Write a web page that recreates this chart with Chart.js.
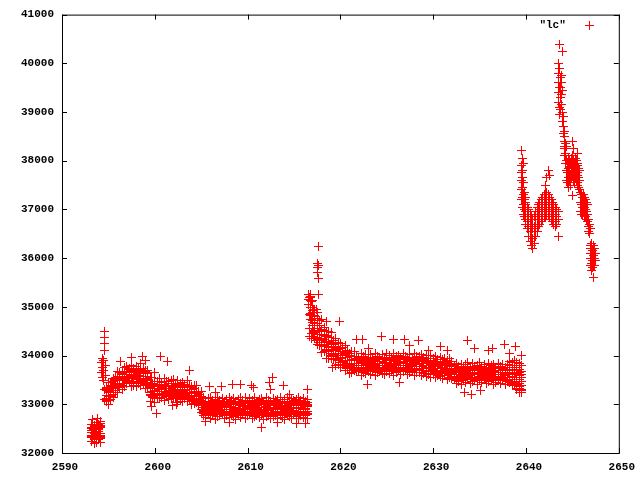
<!DOCTYPE html>
<html><head><meta charset="utf-8">
<script src="https://cdn.jsdelivr.net/npm/chart.js@4/dist/chart.umd.min.js"></script>
<style>html,body{margin:0;padding:0;background:#fff}#wrap{width:640px;height:480px}</style>
</head><body><div id="wrap"><canvas id="c" width="640" height="480"></canvas></div>
<script>
const seriesName = '"lc"';
const xTicks = [2590, 2600, 2610, 2620, 2630, 2640, 2650];
const yTicks = [32000, 33000, 34000, 35000, 36000, 37000, 38000, 39000, 40000, 41000];

// regular band of the light curve: time stamps and nine readings per stamp
const bandTime = [
  2593.2, 2593.45, 2593.7, 2593.95, 2594.2,
  2594.75, 2595, 2595.25, 2595.5, 2595.75, 2596, 2596.25, 2596.5, 2596.75, 2597,
  2597.25, 2597.5, 2597.75, 2598, 2598.25, 2598.5, 2598.75, 2599, 2599.25, 2599.5,
  2599.75, 2600, 2600.25, 2600.5, 2600.75, 2601, 2601.25, 2601.5, 2601.75, 2602,
  2602.25, 2602.5, 2602.75, 2603, 2603.25, 2603.5, 2603.75, 2604, 2604.25, 2604.5,
  2604.75, 2605,
  2605.25, 2605.5, 2605.75, 2606, 2606.25, 2606.5, 2606.75, 2607, 2607.25, 2607.5,
  2607.75, 2608, 2608.25, 2608.5, 2608.75, 2609, 2609.25, 2609.5, 2609.75, 2610,
  2610.25, 2610.5, 2610.75, 2611, 2611.25, 2611.5, 2611.75, 2612, 2612.25, 2612.5,
  2612.75, 2613, 2613.25, 2613.5, 2613.75, 2614, 2614.25, 2614.5, 2614.75, 2615,
  2615.25, 2615.5, 2615.75, 2616, 2616.25, 2616.5,
  2616.75, 2617, 2617.25, 2617.5, 2617.75, 2618, 2618.25, 2618.5, 2618.75, 2619,
  2619.25, 2619.5, 2619.75, 2620, 2620.25, 2620.5, 2620.75, 2621, 2621.25, 2621.5,
  2621.75, 2622, 2622.25, 2622.5, 2622.75, 2623, 2623.25, 2623.5, 2623.75, 2624,
  2624.25, 2624.5, 2624.75, 2625, 2625.25, 2625.5, 2625.75, 2626, 2626.25, 2626.5,
  2626.75, 2627, 2627.25, 2627.5, 2627.75, 2628, 2628.25, 2628.5, 2628.75, 2629,
  2629.25, 2629.5, 2629.75, 2630, 2630.25, 2630.5, 2630.75, 2631, 2631.25, 2631.5,
  2631.75, 2632, 2632.25, 2632.5, 2632.75, 2633, 2633.25, 2633.5, 2633.75, 2634,
  2634.25, 2634.5, 2634.75, 2635, 2635.25, 2635.5, 2635.75, 2636, 2636.25, 2636.5,
  2636.75, 2637, 2637.25, 2637.5, 2637.75, 2638, 2638.25, 2638.5, 2638.75, 2639,
  2639.25, 2639.5
];
const bandLo = [
  32240, 32290, 32220, 32270, 32300,
  33065, 33005, 33105, 33135, 33280, 33240, 33350, 33300, 33375, 33420,
  33445, 33355, 33395, 33375, 33470, 33390, 33430, 33320, 33325, 33180,
  33145, 33035, 33125, 33125, 33180, 33080, 33170, 33100, 33125, 33150,
  33145, 33045, 33095, 33055, 33150, 33050, 33090, 32990, 33025, 33030,
  32985, 32825,
  32780, 32730, 32805, 32715, 32775, 32695, 32750, 32785, 32790, 32700,
  32760, 32720, 32800, 32745, 32690, 32770, 32735, 32795, 32710, 32760,
  32785, 32700, 32740, 32805, 32725, 32765, 32690, 32755, 32790, 32715,
  32745, 32800, 32705, 32770, 32730, 32695, 32780, 32750, 32710, 32790,
  32740, 32700, 32775, 32720, 32760, 32705,
  34740, 34450, 34360, 34230, 34205, 34065, 34075, 33935, 33950, 33935, 33920, 33790, 33810, 33760, 33815, 33695, 33725, 33635, 33660, 33685, 33680,
  33690, 33600, 33660, 33630, 33705, 33615, 33675, 33595, 33650, 33685, 33640, 33605, 33700, 33625, 33670, 33595, 33655, 33690, 33610, 33665, 33700, 33620, 33645, 33680, 33600, 33660,
  33660, 33590, 33640, 33575, 33615, 33560, 33620, 33540, 33595, 33565, 33530, 33590, 33510, 33560, 33535,
  33500, 33430, 33475, 33410, 33490, 33445, 33515, 33420, 33465, 33500, 33415, 33480, 33440, 33510, 33425, 33470, 33495, 33410, 33455, 33505, 33430, 33485, 33415, 33470,
  33440, 33380, 33410, 33330, 33290, 33240
];
const bandQ1 = [
  32310, 32285, 32330, 32295, 32320,
  33102, 33082, 33187, 33202, 33247, 33347, 33412, 33392, 33437, 33417,
  33482, 33432, 33477, 33442, 33437, 33497, 33492, 33412, 33387, 33177,
  33182, 33112, 33207, 33192, 33147, 33187, 33232, 33192, 33187, 33147,
  33182, 33122, 33177, 33122, 33117, 33157, 33152, 33082, 33087, 33027,
  33022, 32902,
  32820, 32775, 32830, 32790, 32770, 32815, 32835, 32785, 32805, 32780,
  32825, 32795, 32770, 32830, 32800, 32780, 32820, 32790, 32835, 32775,
  32810, 32785, 32825, 32770, 32805, 32830, 32790, 32815, 32775, 32800,
  32835, 32780, 32820, 32795, 32770, 32825, 32805, 32785, 32830, 32790,
  32815, 32775, 32800, 32835, 32785, 32810,
  34830, 34610, 34510, 34380, 34310, 34210, 34200, 34110, 34090, 33990, 34010, 33930, 33925, 33860, 33875, 33805, 33810, 33750, 33755, 33700, 33715,
  33720, 33680, 33735, 33690, 33670, 33715, 33740, 33685, 33705, 33675, 33725, 33695, 33670, 33730, 33700, 33680, 33720, 33690, 33735, 33675, 33710, 33685, 33725, 33670, 33705, 33730,
  33700, 33655, 33690, 33640, 33665, 33680, 33625, 33650, 33615, 33640, 33600, 33630, 33585, 33610, 33575,
  33540, 33495, 33550, 33505, 33485, 33530, 33555, 33500, 33520, 33490, 33545, 33510, 33485, 33550, 33515, 33495, 33535, 33505, 33550, 33490, 33525, 33500, 33540, 33485,
  33500, 33440, 33470, 33400, 33360, 33310
];
const bandQ2 = [
  32340, 32310, 32355, 32325, 32345,
  33085, 33170, 33175, 33275, 33275, 33370, 33435, 33425, 33500, 33440,
  33465, 33520, 33465, 33515, 33465, 33520, 33515, 33445, 33450, 33200,
  33165, 33200, 33195, 33265, 33175, 33210, 33255, 33225, 33250, 33170,
  33165, 33210, 33165, 33195, 33145, 33180, 33175, 33115, 33150, 33050,
  33005, 32990,
  32845, 32800, 32860, 32815, 32790, 32850, 32825, 32870, 32805, 32840,
  32795, 32855, 32820, 32865, 32810, 32835, 32790, 32860, 32830, 32800,
  32850, 32815, 32870, 32795, 32840, 32820, 32855, 32805, 32865, 32825,
  32790, 32845, 32810, 32860, 32835, 32800, 32855, 32820, 32790, 32865,
  32830, 32805, 32850, 32815, 32840, 32795,
  34860, 34675, 34485, 34440, 34270, 34235, 34230, 34135, 34115, 33995, 34030, 34005, 33925, 33950, 33850, 33825, 33840, 33785, 33795, 33705, 33740,
  33745, 33700, 33760, 33715, 33690, 33750, 33725, 33770, 33705, 33740, 33695, 33755, 33720, 33765, 33710, 33735, 33690, 33760, 33730, 33700, 33750, 33715, 33770, 33695, 33740, 33720,
  33720, 33690, 33730, 33675, 33700, 33665, 33705, 33650, 33690, 33640, 33680, 33625, 33665, 33615, 33650,
  33560, 33515, 33575, 33530, 33505, 33565, 33540, 33585, 33520, 33555, 33510, 33570, 33535, 33580, 33525, 33550, 33505, 33575, 33545, 33515, 33565, 33530, 33585, 33510,
  33470, 33420, 33450, 33380, 33330, 33280
];
const bandMidLo = [
  32350, 32320, 32390, 32340, 32360,
  33110, 33190, 33155, 33315, 33330, 33420, 33395, 33485, 33540, 33475,
  33490, 33540, 33445, 33555, 33520, 33570, 33475, 33505, 33490, 33235,
  33190, 33220, 33175, 33305, 33230, 33260, 33215, 33285, 33290, 33205,
  33190, 33230, 33145, 33235, 33200, 33230, 33135, 33175, 33190, 33085,
  33030, 33010,
  32880, 32840, 32905, 32815, 32870, 32830, 32910, 32850, 32820, 32895,
  32860, 32810, 32885, 32845, 32915, 32825, 32870, 32900, 32835, 32860,
  32815, 32890, 32850, 32905, 32830, 32875, 32810, 32865, 32900, 32840,
  32885, 32820, 32860, 32910, 32835, 32870, 32815, 32895, 32845, 32880,
  32825, 32905, 32855, 32815, 32890, 32850,
  34850, 34710, 34475, 34485, 34340, 34310, 34185, 34185, 34160, 34035, 33990, 34010, 33895, 33965, 33890, 33900, 33785, 33825, 33840, 33745, 33730,
  33735, 33790, 33710, 33815, 33750, 33780, 33720, 33800, 33760, 33715, 33805, 33740, 33785, 33710, 33770, 33820, 33730, 33795, 33755, 33715, 33790, 33745, 33810, 33725, 33775, 33740,
  33730, 33770, 33700, 33745, 33690, 33735, 33710, 33670, 33725, 33660, 33700, 33645, 33690, 33655, 33630,
  33560, 33610, 33545, 33595, 33530, 33620, 33570, 33540, 33605, 33555, 33625, 33535, 33590, 33560, 33615, 33530, 33585, 33605, 33545, 33575, 33620, 33540, 33595, 33555,
  33560, 33500, 33540, 33470, 33430, 33380
];
const bandMid = [
  32430, 32400, 32415, 32440, 32405,
  33185, 33260, 33245, 33340, 33435, 33415, 33500, 33555, 33530, 33575,
  33565, 33610, 33535, 33580, 33625, 33565, 33580, 33575, 33480, 33335,
  33265, 33290, 33265, 33330, 33335, 33255, 33320, 33355, 33280, 33305,
  33265, 33300, 33235, 33260, 33305, 33225, 33240, 33245, 33180, 33185,
  33105, 33080,
  32940, 32905, 32895, 32935, 32915, 32950, 32890, 32925, 32945, 32900,
  32930, 32890, 32955, 32910, 32935, 32895, 32920, 32950, 32905, 32930,
  32890, 32945, 32915, 32900, 32940, 32925, 32895, 32950, 32910, 32935,
  32900, 32920, 32945, 32890, 32930, 32915, 32955, 32895, 32925, 32905,
  32940, 32910, 32935, 32895, 32920, 32950,
  34985, 34830, 34625, 34560, 34485, 34345, 34320, 34285, 34180, 34165, 34095, 34100, 34005, 34010, 34005, 33905, 33900, 33905, 33830, 33845, 33805,
  33840, 33805, 33795, 33835, 33815, 33850, 33790, 33825, 33845, 33800, 33830, 33790, 33855, 33810, 33835, 33795, 33820, 33850, 33805, 33830, 33790, 33845, 33815, 33800, 33840, 33825,
  33820, 33780, 33805, 33760, 33795, 33750, 33780, 33740, 33770, 33725, 33755, 33710, 33740, 33695, 33725,
  33655, 33620, 33610, 33650, 33630, 33665, 33605, 33640, 33660, 33615, 33645, 33605, 33670, 33625, 33650, 33610, 33635, 33665, 33620, 33645, 33605, 33660, 33630, 33615,
  33640, 33580, 33620, 33560, 33510, 33470
];
const bandMidHi = [
  32460, 32500, 32440, 32480, 32520,
  33275, 33250, 33380, 33375, 33410, 33550, 33565, 33620, 33575, 33615,
  33655, 33600, 33670, 33615, 33600, 33700, 33645, 33640, 33525, 33375,
  33355, 33280, 33400, 33365, 33310, 33390, 33385, 33420, 33325, 33345,
  33355, 33290, 33370, 33295, 33280, 33360, 33305, 33310, 33225, 33225,
  33195, 33070,
  33020, 32950, 33030, 32935, 32990, 33025, 32940, 32985, 33015, 32925,
  32970, 33030, 32955, 33005, 32930, 32995, 33025, 32945, 32980, 33020,
  32935, 33000, 32960, 33030, 32925, 32990, 33015, 32950, 32975, 33025,
  32940, 32995, 33020, 32930, 32985, 33010, 32945, 33030, 32965, 32935,
  33005, 32980, 32925, 33020, 32955, 32990,
  35135, 34880, 34820, 34655, 34510, 34530, 34425, 34390, 34265, 34245, 34225, 34120, 34170, 34075, 34010, 34070, 33995, 34000, 33905, 33905, 33915,
  33895, 33850, 33930, 33865, 33830, 33915, 33880, 33905, 33840, 33875, 33925, 33855, 33890, 33835, 33920, 33870, 33900, 33845, 33930, 33860, 33885, 33915, 33840, 33905, 33865, 33890,
  33900, 33845, 33880, 33830, 33875, 33820, 33860, 33805, 33850, 33800, 33840, 33790, 33825, 33770, 33810,
  33720, 33665, 33705, 33650, 33735, 33680, 33715, 33645, 33700, 33740, 33660, 33725, 33690, 33640, 33710, 33745, 33670, 33700, 33655, 33730, 33685, 33715, 33650, 33695,
  33720, 33660, 33700, 33640, 33600, 33560
];
const bandQ4 = [
  32500, 32530, 32485, 32510, 32540,
  33325, 33300, 33375, 33380, 33515, 33530, 33555, 33660, 33615, 33655,
  33705, 33650, 33665, 33620, 33705, 33680, 33635, 33680, 33565, 33415,
  33405, 33330, 33395, 33370, 33415, 33370, 33375, 33460, 33365, 33385,
  33405, 33340, 33365, 33300, 33385, 33340, 33295, 33350, 33265, 33265,
  33245, 33120,
  33030, 32985, 33045, 33000, 32975, 33040, 33015, 33050, 32990, 33025,
  32980, 33045, 33005, 33050, 32995, 33020, 32975, 33040, 33010, 32985,
  33035, 33000, 33050, 32980, 33025, 33005, 33045, 32990, 33050, 33015,
  32975, 33030, 32995, 33045, 33020, 32985, 33040, 33005, 32975, 33050,
  33015, 32990, 33035, 33000, 33025, 32980,
  35185, 34930, 34815, 34660, 34625, 34490, 34405, 34420, 34295, 34275, 34235, 34140, 34135, 34050, 34085, 34020, 33955, 34010, 33915, 33925, 33945,
  33925, 33880, 33940, 33895, 33870, 33935, 33905, 33950, 33885, 33920, 33875, 33945, 33900, 33950, 33890, 33915, 33870, 33940, 33910, 33880, 33930, 33895, 33950, 33875, 33920, 33900,
  33900, 33870, 33910, 33860, 33885, 33845, 33880, 33835, 33870, 33820, 33860, 33810, 33845, 33800, 33830,
  33740, 33695, 33755, 33710, 33685, 33745, 33720, 33765, 33700, 33735, 33690, 33750, 33715, 33760, 33705, 33730, 33685, 33755, 33725, 33695, 33745, 33710, 33765, 33690,
  33760, 33720, 33750, 33700, 33660, 33620
];
const bandQ3 = [
  32530, 32555, 32520, 32545, 32560,
  33348, 33338, 33358, 33473, 33498, 33573, 33653, 33623, 33683, 33643,
  33728, 33688, 33648, 33713, 33688, 33723, 33733, 33643, 33633, 33403,
  33428, 33368, 33378, 33463, 33398, 33413, 33473, 33423, 33433, 33373,
  33428, 33378, 33348, 33393, 33368, 33383, 33393, 33313, 33333, 33253,
  33268, 33158,
  33060, 33025, 33050, 33005, 33070, 33040, 33015, 33055, 33030, 33065,
  33010, 33045, 33070, 33020, 33055, 33035, 33005, 33060, 33040, 33025,
  33065, 33015, 33050, 33035, 33070, 33010, 33045, 33060, 33025, 33055,
  33005, 33040, 33065, 33030, 33050, 33015, 33060, 33045, 33020, 33070,
  33035, 33055, 33010, 33045, 33065, 33030,
  35220, 34980, 34810, 34765, 34620, 34545, 34515, 34395, 34375, 34275, 34265, 34185, 34125, 34150, 34075, 34070, 34060, 33980, 33990, 33920, 33975,
  33960, 33925, 33950, 33905, 33970, 33940, 33915, 33955, 33930, 33965, 33910, 33945, 33970, 33920, 33955, 33935, 33905, 33960, 33940, 33925, 33965, 33915, 33950, 33935, 33970, 33910,
  33930, 33900, 33915, 33880, 33905, 33870, 33895, 33855, 33880, 33845, 33870, 33830, 33855, 33815, 33840,
  33770, 33735, 33760, 33715, 33780, 33750, 33725, 33765, 33740, 33775, 33720, 33755, 33780, 33730, 33765, 33745, 33715, 33770, 33750, 33735, 33775, 33725, 33760, 33745,
  33790, 33760, 33800, 33750, 33720, 33680
];
const bandHi = [
  32590, 32560, 32630, 32580, 32610,
  33330, 33440, 33440, 33530, 33545, 33680, 33655, 33665, 33745, 33780,
  33710, 33790, 33730, 33770, 33735, 33830, 33735, 33685, 33695, 33540,
  33410, 33470, 33460, 33520, 33445, 33520, 33475, 33465, 33495, 33510,
  33410, 33480, 33430, 33450, 33415, 33490, 33395, 33355, 33395, 33390,
  33250, 33260,
  33130, 33060, 33110, 33145, 33050, 33095, 33135, 33070, 33120, 33040,
  33100, 33140, 33065, 33115, 33045, 33090, 33130, 33075, 33145, 33055,
  33110, 33080, 33135, 33050, 33100, 33125, 33060, 33140, 33085, 33045,
  33120, 33070, 33105, 33145, 33055, 33095, 33130, 33065, 33115, 33040,
  33100, 33135, 33075, 33120, 33050, 33090,
  35255, 35135, 34945, 34875, 34720, 34735, 34580, 34500, 34500, 34465, 34315, 34345, 34265, 34255, 34170, 34215, 34100, 34050, 34080, 34075, 33975,
  33960, 34040, 33990, 34015, 33950, 34030, 33970, 34045, 33985, 33955, 34020, 33965, 34040, 34000, 33950, 34035, 33975, 34010, 33960, 34045, 33990, 33955, 34025, 33970, 34040, 33985,
  33985, 34020, 33960, 34000, 33950, 33995, 33935, 33980, 33920, 33965, 33915, 33950, 33895, 33935, 33880,
  33790, 33845, 33770, 33825, 33760, 33810, 33850, 33775, 33830, 33765, 33800, 33855, 33780, 33820, 33755, 33840, 33790, 33815, 33760, 33845, 33785, 33825, 33765, 33810,
  33880, 33850, 33900, 33860, 33830, 33790
];

// clusters and scattered readings outside the band
const extraTime = [
  2593.3, 2593.35, 2593.55, 2593.6, 2593.8, 2594.05, 2594.1,
  2594.3, 2594.4, 2594.5, 2594.6, 2594.65,
  2596.3, 2597.5, 2598.65, 2599.0, 2599.5, 2599.6, 2600.0, 2600.2, 2600.6, 2601.4,
  2601.9, 2602.3, 2603.7, 2605.5, 2605.9, 2606.5, 2607.2, 2608.0, 2608.4, 2609.2,
  2610.4, 2610.6, 2611.5, 2612.36, 2612.5, 2612.65, 2613.2, 2613.9, 2614.5, 2615.3,
  2616.2, 2616.5,
  2616.6, 2616.7, 2616.9, 2617.1, 2617.4, 2617.55, 2617.6, 2617.65,
  2618.5, 2619.2, 2619.9, 2621.7, 2622.4, 2622.9, 2623.0, 2624.4, 2625.7, 2626.4,
  2626.9, 2627.5, 2628.4, 2629.5, 2630.8, 2631.5, 2633.4, 2633.7, 2634.1, 2634.4,
  2635.1, 2636.0, 2636.4, 2637.7, 2638.2, 2638.9, 2639.0, 2639.3, 2639.5
];
const extraFlux = [
  [32330, 32680], [32490], [32200, 32540], [32400], [32350, 32700], [32520, 32300], [32210, 32640],
  [33850, 33650], [33750, 33550, 33950], [33900, 33700, 33480], [34500, 34380, 34250, 34100, 33100, 33300], [33800, 33600],
  [33880], [33960], [33975], [33900], [33050], [33550, 32950], [33650], [32820], [33975], [33870],
  [32975], [33000], [33700], [32650], [33360], [33250], [33360], [32620], [33400], [33400],
  [33390], [33350], [32520], [33440], [33300], [33550], [32620], [33390], [33200], [32600],
  [32600], [33300],
  [35250, 35150, 35050], [35200, 34850, 34550, 34400], [35100, 34750, 34450, 34350], [34950, 34500, 34400],
  [34950, 34300], [35900, 35800, 35700], [36240, 35250], [35850, 35580],
  [34700], [33750], [34690], [34320], [34320], [33400], [34150], [34385], [34320], [33450],
  [34320], [34200], [34300], [34100], [34190], [34100], [33250], [34300], [33210], [34150],
  [33280], [34100], [34150], [34235], [34050], [34180], [33300], [33250], [34000]
];

// final flaring stretch
const flareTime = [
  2639.5, 2639.6, 2639.7, 2639.8, 2639.9, 2640.0, 2640.15, 2640.3, 2640.45, 2640.6,
  2640.75, 2640.9, 2641.05, 2641.2, 2641.35, 2641.5, 2641.65, 2641.8, 2641.95, 2642.1,
  2642.25, 2642.4, 2642.55, 2642.7, 2642.85, 2643.0, 2643.15, 2643.3, 2643.45, 2643.55,
  2643.6, 2643.7, 2643.8, 2643.9, 2644.0, 2644.1, 2644.2, 2644.3, 2644.4, 2644.5,
  2644.6, 2644.7, 2644.8, 2644.9, 2645.0, 2645.1, 2645.2, 2645.3, 2645.4, 2645.5,
  2645.6, 2645.7, 2645.8, 2645.9, 2646.0, 2646.1, 2646.2, 2646.3, 2646.4, 2646.5,
  2646.6, 2646.7, 2646.8, 2646.9, 2647.0, 2647.1, 2647.2, 2647.3, 2647.4, 2647.5
];
const flareFlux = [
  [38220, 37900, 37750, 37600, 37400, 37200], [38050, 37800, 37650, 37450, 37250, 37050],
  [37950, 37550, 37300, 37100, 36900], [37350, 37200, 37000, 36850], [37250, 37100, 36950, 36800],
  [37150, 37000, 36850, 36700], [37050, 36900, 36750, 36600], [37000, 36850, 36650, 36450],
  [36900, 36700, 36550, 36350], [36850, 36650, 36450, 36250],
  [36800, 36600, 36400, 36200], [36850, 36650, 36450, 36300], [36950, 36800, 36600, 36450],
  [37050, 36900, 36700, 36550], [37100, 36950, 36800, 36650], [37150, 37000, 36850, 36700],
  [37200, 37050, 36900, 36750], [37250, 37100, 36950, 36800], [37300, 37150, 37000, 36850],
  [37500, 37300, 37150, 37000, 36850],
  [37650, 37350, 37200, 37050, 36900], [37800, 37300, 37150, 37000, 36900], [37700, 37250, 37100, 36950, 36850],
  [37200, 37050, 36900, 36800], [37150, 37000, 36850, 36750], [37100, 36950, 36800, 36700],
  [37050, 36900, 36750, 36650], [37000, 36850, 36700], [36950, 36800, 36450],
  [39200, 39400, 39600, 39800, 40000],
  [40380, 39900, 39500, 39100, 38950], [39300, 39500, 39700, 39050], [39150, 39350, 39600, 39750],
  [40250, 38800, 39000, 39450], [38700, 38550, 38900], [38400, 38600, 38250], [38100, 38300, 38500],
  [37950, 38150, 38350], [38000, 37800, 37600, 38300], [37950, 37750, 37550],
  [38050, 37850, 37650, 37450], [38000, 37800, 37600], [37950, 37700, 37500], [38050, 37850, 37650],
  [38400, 38100, 37900, 37700, 37280], [38250, 38000, 37800, 37600], [37950, 37750, 37550],
  [38050, 37850, 37650], [38000, 37800, 37600], [38150, 37950, 37750, 37550],
  [37900, 37700, 37500], [37850, 37650, 37450], [37800, 37600, 37400], [37350, 37150, 36950],
  [37300, 37100, 36900], [37250, 37050, 36900], [37300, 37100, 36950], [37250, 37050, 36850],
  [37200, 37000, 36850], [37150, 36950, 36800],
  [37100, 36900, 36750], [36800, 36650, 36550], [36700, 36500], [36600, 36250, 36100],
  [36200, 36000, 35850], [36300, 36100, 35900, 35750], [36150, 35950, 35800],
  [36250, 36050, 35850, 35600], [36200, 36000, 35850], [36100, 35950]
];

const points = [];
bandTime.forEach((t, i) => {
  [bandLo, bandQ1, bandQ2, bandMidLo, bandMid, bandMidHi, bandQ4, bandQ3, bandHi]
    .forEach(row => points.push({x: t, y: row[i]}));
});
extraTime.forEach((t, i) => extraFlux[i].forEach(v => points.push({x: t, y: v})));
flareTime.forEach((t, i) => flareFlux[i].forEach(v => points.push({x: t, y: v})));

const RED = '#ff0000';
// crisp one-pixel "+" marker, 9 px across
const mark = document.createElement('canvas');
mark.width = 9; mark.height = 9;
(function () {
  const m = mark.getContext('2d');
  m.fillStyle = RED;
  m.fillRect(0, 4, 9, 1);
  m.fillRect(4, 0, 1, 9);
})();

const FONT = {family: '"Liberation Mono", "DejaVu Sans Mono", monospace', size: 11, weight: 'bold'};

const framePlugin = {
  id: 'frame',
  beforeDatasetsDraw(chart) {
    chart.ctx.imageSmoothingEnabled = false;
  },
  afterDatasetsDraw(chart) {
    const {ctx, chartArea: a, scales: {x, y}} = chart;
    ctx.save();
    ctx.strokeStyle = '#000';
    ctx.lineWidth = 1;
    ctx.strokeRect(a.left + 0.5, a.top + 0.5, a.right - a.left, a.bottom - a.top);
    const len = 5;
    ctx.beginPath();
    x.ticks.forEach(t => {
      const px = Math.round(x.getPixelForValue(t.value)) + 0.5;
      ctx.moveTo(px, a.bottom); ctx.lineTo(px, a.bottom - len);
      ctx.moveTo(px, a.top); ctx.lineTo(px, a.top + len);
    });
    y.ticks.forEach(t => {
      const py = Math.round(y.getPixelForValue(t.value)) + 0.5;
      ctx.moveTo(a.left, py); ctx.lineTo(a.left + len, py);
      ctx.moveTo(a.right, py); ctx.lineTo(a.right - len, py);
    });
    ctx.stroke();
    // key
    const ds = chart.data.datasets[0];
    const ky = Math.round(a.top + 10);
    ctx.font = 'bold 11px ' + FONT.family;
    ctx.fillStyle = '#000';
    ctx.textAlign = 'right';
    ctx.textBaseline = 'middle';
    ctx.fillText(ds.label, a.right - 53, ky);
    const kx = Math.round(a.right - 30);
    ctx.drawImage(mark, kx - 4, ky - 4);
    ctx.restore();
    ctx.imageSmoothingEnabled = true;
  }
};

new Chart(document.getElementById('c'), {
  type: 'scatter',
  data: {
    datasets: [{
      label: seriesName,
      data: points,
      pointStyle: mark,
      pointRadius: 4.5,
      borderColor: RED,
      backgroundColor: RED,
      showLine: false
    }]
  },
  options: {
    responsive: false,
    animation: false,
    events: [],
    devicePixelRatio: 1,
    layout: {padding: {top: 13, right: 21, left: 0, bottom: 0}},
    plugins: {legend: {display: false}, tooltip: {enabled: false}},
    scales: {
      x: {
        type: 'linear', min: xTicks[0], max: xTicks[xTicks.length - 1],
        grid: {display: false, drawTicks: false},
        border: {display: false},
        afterBuildTicks: s => { s.ticks = xTicks.map(v => ({value: v})); },
        afterFit: s => { s.height = 27; },
        ticks: {font: FONT, color: '#000', padding: 8, labelOffset: 3, maxRotation: 0, autoSkip: false,
                callback: v => String(v)}
      },
      y: {
        type: 'linear', min: yTicks[0], max: yTicks[yTicks.length - 1],
        grid: {display: false, drawTicks: false},
        border: {display: false},
        afterBuildTicks: s => { s.ticks = yTicks.map(v => ({value: v})); },
        afterFit: s => { s.width = 62; },
        ticks: {font: FONT, color: '#000', padding: 8, autoSkip: false,
                callback: v => String(v)}
      }
    }
  },
  plugins: [framePlugin]
});
</script>
</body></html>
